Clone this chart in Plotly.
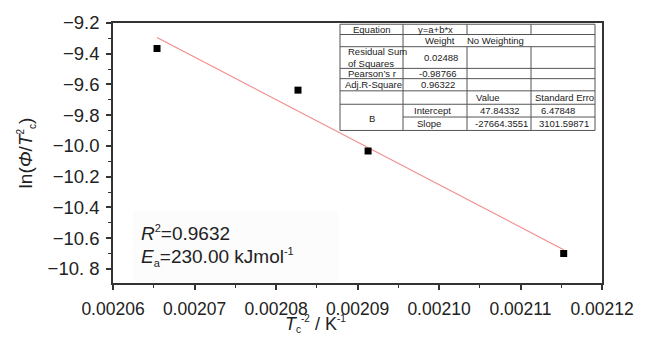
import plotly.graph_objects as go

# ---- data ----
x_pts = [0.0020654, 0.0020827, 0.0020913, 0.0021153]
y_pts = [-9.366, -9.637, -10.033, -10.700]
fit_intercept = 47.84332
fit_slope = -27664.3551

x_tickvals = [0.00206, 0.00207, 0.00208, 0.00209, 0.00210, 0.00211, 0.00212]
x_ticktext = ["0.00206", "0.00207", "0.00208", "0.00209", "0.00210", "0.00211", "0.00212"]
y_tickvals = [-9.2, -9.4, -9.6, -9.8, -10.0, -10.2, -10.4, -10.6, -10.8]
y_ticktext = ["\u22129.2", "\u22129.4", "\u22129.6", "\u22129.8", "\u221210.0",
              "\u221210.2", "\u221210.4", "\u221210.6", "\u221210. 8"]

table_rows = [
    ["Equation", "y=a+b*x", "", ""],
    ["", "Weight", "No Weighting", ""],
    ["Residual Sum<br>of Squares", "0.02488", "", ""],
    ["Pearson\u2019s r", "-0.98766", "", ""],
    ["Adj.R-Square", "0.96322", "", ""],
    ["", "", "Value", "Standard Erro"],
    ["B", "Intercept", "47.84332", "6.47848"],
    ["", "Slope", "-27664.3551", "3101.59871"],
]


def small(t, s=11):
    return '<span style="font-size:%dpx">%s</span>' % (s, t)


r2_text = "<i>R</i><sup>" + small("2") + "</sup>=0.9632"
ea_text = "<i>E</i><sub>" + small("a") + "</sub>=230.00 kJmol<sup>" + small("-1") + "</sup>"
x_title = "<i>T</i><sub>" + small("c", 10) + "</sub><sup>" + small("-2", 10) + "</sup> / K<sup>" + small("-1", 10) + "</sup>"
y_title = "ln(<i>\u03a6</i>/<i>T</i><sup>" + small("2", 10) + "</sup><sub>" + small("c", 10) + "</sub>)"

# ---- figure geometry ----
W, H = 649, 338
L, R, T, B = 113, 602, 12, 283
PW, PH = R - L, B - T


def px(x):
    return (x - L) / PW


def py(y):
    return (B - y) / PH


FONT = "Liberation Sans, Arial, sans-serif"
INK = "#222222"

fig = go.Figure()

fit_x = [x_pts[0], x_pts[-1]]
fit_y = [fit_intercept + fit_slope * v for v in fit_x]
fig.add_trace(go.Scatter(x=fit_x, y=fit_y, mode="lines",
                         line=dict(color="#f28c8c", width=1.2), showlegend=False))
fig.add_trace(go.Scatter(x=x_pts, y=y_pts, mode="markers",
                         marker=dict(symbol="square", size=7, color="black"),
                         showlegend=False))

shapes = []
annotations = []

# faint box behind R^2 / Ea text
shapes.append(dict(type="rect", xref="paper", yref="paper", layer="below",
                   x0=px(133), x1=px(338), y0=py(208), y1=py(281),
                   fillcolor="#fcfcfc", line=dict(width=0)))

# ---- fit table ----
cols = [340, 403, 467, 531, 595]
rows = [13.3, 24, 36.7, 59.3, 70, 82.7, 96.7, 110, 124]
tcol = "#555555"
shapes.append(dict(type="rect", xref="paper", yref="paper",
                   x0=px(cols[0]), x1=px(cols[-1]), y0=py(rows[-1]), y1=py(rows[0]),
                   fillcolor="white", line=dict(color=tcol, width=1)))


def hline(y, xa, xb):
    shapes.append(dict(type="line", xref="paper", yref="paper",
                       x0=px(xa), x1=px(xb), y0=py(y), y1=py(y),
                       line=dict(color=tcol, width=1)))


def vline(x, ya, yb):
    shapes.append(dict(type="line", xref="paper", yref="paper",
                       x0=px(x), x1=px(x), y0=py(ya), y1=py(yb),
                       line=dict(color=tcol, width=1)))


for i, y in enumerate(rows[1:-1], start=1):
    hline(y, cols[1] if i == 7 else cols[0], cols[-1])
vline(cols[1], rows[0], rows[-1])
for c in (cols[2], cols[3]):
    vline(c, rows[0], rows[1])
    vline(c, rows[2], rows[-1])

cell_pos = {
    (0, 0): (371.5, "center"), (0, 1): (435, "center"),
    (1, 1): (457, "right"), (1, 2): (465, "left"),
    (2, 0): (346, "left"), (2, 1): (441, "center"),
    (3, 0): (371.5, "center"), (3, 1): (438, "center"),
    (4, 0): (373, "center"), (4, 1): (438, "center"),
    (5, 2): (488, "center"), (5, 3): (564, "center"),
    (6, 0): (371.5, "center"), (6, 1): (432, "center"), (6, 2): (500, "center"), (6, 3): (558, "center"),
    (7, 1): (429, "center"), (7, 2): (501, "center"), (7, 3): (564, "center"),
}
for r, row in enumerate(table_rows):
    for c, txt in enumerate(row):
        if not txt:
            continue
        xc, anc = cell_pos[(r, c)]
        yc = (rows[r] + rows[r + 1]) / 2
        if (r, c) == (6, 0):
            yc = (rows[6] + rows[8]) / 2 + 1
        annotations.append(dict(xref="paper", yref="paper", x=px(xc), y=py(yc),
                                text=txt, showarrow=False, xanchor=anc, yanchor="middle",
                                align="left",
                                font=dict(family=FONT, size=9.5, color=INK)))

# R^2 and Ea
annotations.append(dict(xref="paper", yref="paper", x=px(139), y=py(231), text=r2_text,
                        showarrow=False, xanchor="left", yanchor="middle",
                        font=dict(family=FONT, size=19, color=INK)))
annotations.append(dict(xref="paper", yref="paper", x=px(139), y=py(256), text=ea_text,
                        showarrow=False, xanchor="left", yanchor="middle",
                        font=dict(family=FONT, size=19, color=INK)))

# x axis title
annotations.append(dict(xref="paper", yref="paper", x=px(315), y=py(326),
                        text=x_title,
                        showarrow=False, xanchor="center", yanchor="middle",
                        font=dict(family=FONT, size=18, color=INK)))

axis_common = dict(showgrid=False, zeroline=False, showline=True, linecolor="#333333",
                   linewidth=1.5, mirror=True, ticks="outside", ticklen=5, tickwidth=1.5,
                   tickcolor="#333333")

fig.update_layout(
    width=W, height=H,
    margin=dict(l=L, r=W - R, t=T, b=H - B),
    paper_bgcolor="white", plot_bgcolor="white",
    showlegend=False,
    shapes=shapes, annotations=annotations,
    xaxis=dict(range=[0.00206, 0.00212], tickvals=x_tickvals, ticktext=x_ticktext,
               tickfont=dict(family=FONT, size=17.5, color=INK),
               ticklabelstandoff=4,
               minor=dict(ticks="outside", ticklen=3, tickwidth=1.2, tickcolor="#333333",
                          dtick=0.000005),
               **axis_common),
    yaxis=dict(range=[-10.892, -9.2], tickvals=y_tickvals, ticktext=y_ticktext,
               tickfont=dict(family=FONT, size=18.5, color=INK),
               ticklabelstandoff=3,
               title=dict(text=y_title, font=dict(family=FONT, size=19, color=INK),
                          standoff=10),
               minor=dict(ticks="outside", ticklen=3, tickwidth=1.2, tickcolor="#333333",
                          dtick=0.1, tick0=-9.2),
               **axis_common),
)

fig.write_html("out.html")
